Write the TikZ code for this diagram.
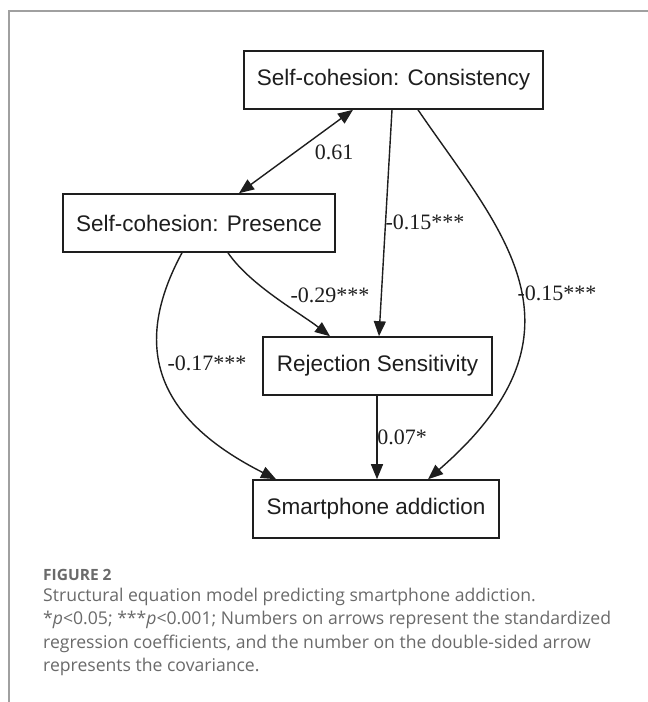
\documentclass[tikz,border=0pt]{standalone}
\usepackage{fontspec}
\setmainfont{Liberation Serif}
\setsansfont{Liberation Sans}
\newfontfamily\capfont{Open Sans}
\usetikzlibrary{arrows.meta}
\definecolor{framegray}{HTML}{A0A0A0}
\definecolor{captiongray}{HTML}{6A6A6A}
\definecolor{ink}{HTML}{1E1E1E}
\tikzset{
  box/.style={draw=ink, line width=1.6pt, minimum height=58pt, inner sep=0pt,
    font=\sffamily\fontsize{22.5}{27}\selectfont, text=ink},
  conn/.style={draw=ink, line width=1.4pt, -{Triangle[length=15pt,width=12pt]}},
  dconn/.style={draw=ink, line width=1.4pt, {Triangle[length=15pt,width=12pt]}-{Triangle[length=15pt,width=12pt]}},
  lab/.style={font=\fontsize{22}{26}\selectfont, text=ink, inner sep=0pt},
  caphead/.style={anchor=base west, inner sep=0pt, text=captiongray,
    font=\capfont\bfseries\fontsize{15.5}{18}\selectfont},
  capline/.style={anchor=base west, inner sep=0pt, text=captiongray,
    font=\capfont\fontsize{17.6}{21}\selectfont}
}
\begin{document}
\begin{tikzpicture}[x=1pt,y=-1pt]
\useasboundingbox (0,0) rectangle (648,702);
\fill[white] (0,0) rectangle (648,702);
% frame
\draw[framegray, line width=1.5pt] (9,702) -- (9,11) -- (648,11);
% boxes
\node[box, minimum width=299pt] (cons) at (393.5,80) {Self-cohesion: Consistency};
\node[box, minimum width=272pt] (pres) at (199,223) {Self-cohesion: Presence};
\node[box, minimum width=229pt] (rej) at (377.5,366) {Rejection Sensitivity};
\node[box, minimum width=246pt] (smart) at (376,509) {Smartphone addiction};
% connectors
\draw[dconn] ([xshift=-40.5pt]cons.south) -- ([xshift=40pt]pres.north);
\draw[conn] ([xshift=-1.5pt]cons.south) -- ([xshift=1.5pt]rej.north);
\draw[conn] ([xshift=24.5pt]cons.south) .. controls (500,230) and (600,330) .. ([xshift=52pt]smart.north);
\draw[conn] ([xshift=29pt]pres.south) .. controls (250,285) and (300,313) .. ([xshift=-47.5pt]rej.north);
\draw[conn] ([xshift=-17pt]pres.south) .. controls (129.5,350) and (159,420) .. ([xshift=-100pt]smart.north);
\draw[conn] ([xshift=-0.5pt]rej.south) -- ([xshift=1pt]smart.north);
% labels
\node[lab] (l1) at (334,152) {0.61};
\node[lab] (l2) at (425,222) {-0.15***};
\node[lab] (l3) at (557,293) {-0.15***};
\node[lab] (l4) at (330,295) {-0.29***};
\node[lab] (l5) at (207,363) {-0.17***};
\node[lab] (l6) at (402,437) {0.07*};
% caption
\node[caphead] (c0) at (43,580) {FIGURE 2};
\node[capline] (c1) at (43,601) {Structural equation model predicting smartphone addiction.};
\node[capline] (c2) at (43,624.5) {*\textit{p}<0.05; ***\textit{p}<0.001; Numbers on arrows represent the standardized};
\node[capline] (c3) at (43,648) {regression coefficients, and the number on the double-sided arrow};
\node[capline] (c4) at (43,671.5) {represents the covariance.};
\end{tikzpicture}
\end{document}
